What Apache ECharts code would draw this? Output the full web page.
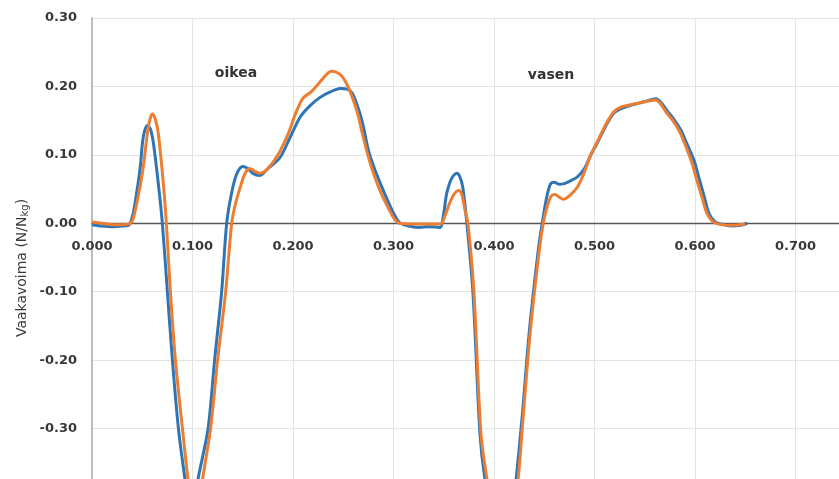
<!DOCTYPE html>
<html>
<head>
<meta charset="utf-8">
<script src="https://cdn.jsdelivr.net/npm/echarts@6/dist/echarts.min.js"></script>
<style>
  html, body { margin: 0; padding: 0; background: #fff; }
  #chart { width: 839px; height: 479px; }
</style>
</head>
<body>
<div id="chart"></div>
<script>
// Vertical force, two trials over time (s)
const xTicks = [0, 0.1, 0.2, 0.3, 0.4, 0.5, 0.6, 0.7, 0.8];
const yTicks = [-0.4, -0.3, -0.2, -0.1, 0, 0.1, 0.2, 0.3];

const timeBlue = [
  0.000, 0.010, 0.020, 0.030, 0.037, 0.041, 0.045, 0.048, 0.051, 0.055,
  0.058, 0.061, 0.066, 0.070, 0.075, 0.080, 0.086, 0.0925, 0.097, 0.101,
  0.1055, 0.1155, 0.122, 0.129, 0.134, 0.139, 0.144, 0.150, 0.155, 0.160,
  0.167, 0.175, 0.187, 0.197, 0.207, 0.217, 0.227, 0.237, 0.247, 0.254,
  0.259, 0.264, 0.269, 0.275, 0.281, 0.287, 0.294, 0.300, 0.306, 0.315,
  0.325, 0.335, 0.346, 0.350, 0.353, 0.358, 0.363, 0.366, 0.369, 0.373,
  0.379, 0.386, 0.391, 0.400, 0.410, 0.418, 0.422, 0.428, 0.435, 0.444,
  0.448, 0.452, 0.456, 0.460, 0.465, 0.470, 0.476, 0.483, 0.490, 0.496,
  0.503, 0.509, 0.515, 0.520, 0.527, 0.535, 0.545, 0.555, 0.561, 0.566,
  0.572, 0.579, 0.586, 0.592, 0.599, 0.604, 0.609, 0.614, 0.620, 0.628,
  0.636, 0.645, 0.652
];
const forceBlue = [
  -0.002, -0.004, -0.005, -0.004, -0.002, 0.015, 0.050, 0.082, 0.126, 0.143,
  0.138, 0.118, 0.058, 0.000, -0.100, -0.200, -0.300, -0.374, -0.420, -0.420,
  -0.374, -0.300, -0.200, -0.100, 0.000, 0.045, 0.072, 0.083, 0.080, 0.073,
  0.070, 0.080, 0.096, 0.125, 0.155, 0.172, 0.184, 0.192, 0.197, 0.196,
  0.190, 0.172, 0.148, 0.107, 0.080, 0.058, 0.034, 0.015, 0.001, -0.004,
  -0.006, -0.005, -0.006, 0.015, 0.044, 0.066, 0.073, 0.068, 0.052, 0.000,
  -0.100, -0.307, -0.374, -0.440, -0.450, -0.420, -0.374, -0.283, -0.160, -0.040,
  0.000, 0.035, 0.057, 0.060, 0.057, 0.058, 0.062, 0.068, 0.080, 0.099,
  0.118, 0.136, 0.152, 0.162, 0.168, 0.172, 0.176, 0.180, 0.182, 0.177,
  0.165, 0.152, 0.136, 0.116, 0.092, 0.066, 0.040, 0.014, 0.002, -0.002,
  -0.004, -0.003, 0.000
];

const timeOrange = [
  0.000, 0.010, 0.020, 0.030, 0.037, 0.041, 0.046, 0.051, 0.056, 0.060,
  0.063, 0.066, 0.071, 0.074, 0.078, 0.083, 0.090, 0.0955, 0.101, 0.105,
  0.110, 0.118, 0.125, 0.133, 0.139, 0.143, 0.147, 0.152, 0.157, 0.162,
  0.167, 0.175, 0.185, 0.195, 0.203, 0.210, 0.218, 0.226, 0.233, 0.238,
  0.243, 0.248, 0.253, 0.258, 0.264, 0.270, 0.276, 0.282, 0.288, 0.295,
  0.301, 0.306, 0.320, 0.335, 0.347, 0.351, 0.356, 0.361, 0.365, 0.368,
  0.371, 0.374, 0.380, 0.387, 0.393, 0.401, 0.411, 0.419, 0.424, 0.429,
  0.436, 0.445, 0.449, 0.453, 0.457, 0.461, 0.465, 0.469, 0.475, 0.483,
  0.490, 0.496, 0.503, 0.509, 0.515, 0.520, 0.527, 0.535, 0.545, 0.555,
  0.560, 0.565, 0.571, 0.578, 0.585, 0.591, 0.597, 0.602, 0.607, 0.612,
  0.618, 0.626, 0.634, 0.645, 0.650
];
const forceOrange = [
  0.002, 0.000, -0.002, -0.002, -0.001, 0.007, 0.040, 0.082, 0.140, 0.160,
  0.152, 0.131, 0.058, 0.000, -0.100, -0.200, -0.300, -0.374, -0.430, -0.430,
  -0.374, -0.300, -0.200, -0.100, 0.000, 0.030, 0.050, 0.072, 0.080, 0.076,
  0.073, 0.080, 0.100, 0.130, 0.162, 0.183, 0.192, 0.205, 0.217, 0.222,
  0.221, 0.216, 0.205, 0.188, 0.162, 0.125, 0.092, 0.065, 0.043, 0.022,
  0.006, 0.000, -0.001, -0.001, -0.001, 0.010, 0.030, 0.044, 0.048, 0.042,
  0.020, 0.000, -0.100, -0.307, -0.374, -0.440, -0.450, -0.420, -0.374, -0.283,
  -0.160, -0.040, 0.000, 0.025, 0.040, 0.042, 0.038, 0.035, 0.040, 0.053,
  0.075, 0.099, 0.120, 0.138, 0.154, 0.164, 0.170, 0.173, 0.176, 0.179,
  0.180, 0.176, 0.163, 0.150, 0.133, 0.112, 0.088, 0.062, 0.038, 0.014,
  0.002, -0.002, -0.003, -0.002, -0.001
];

const yTitle = 'Vaakavoima (N/N';
const yTitleSub = 'kg';
const notes = [
  { text: 'oikea', x: 236, y: 73 },
  { text: 'vasen', x: 551, y: 75 }
];

function zip(xs, ys) { return xs.map((x, i) => [x, ys[i]]); }

const labelStyle = {
  fontFamily: 'DejaVu Sans, sans-serif',
  fontWeight: 'bold',
  fontSize: 13,
  color: '#383838'
};

// plot area: 0.000–0.800 by -0.40–0.30, partly beyond the canvas edges
const gridTop = 18;
const gridHeight = 479;
const zeroOffset = -Math.round(gridHeight * (0 - yTicks[0]) / (yTicks[yTicks.length - 1] - yTicks[0]));

const chart = echarts.init(document.getElementById('chart'));
chart.setOption({
  animation: false,
  backgroundColor: '#ffffff',
  grid: {
    left: 92, top: gridTop, width: 804, height: gridHeight,
    containLabel: false, outerBoundsMode: 'none'
  },
  xAxis: {
    type: 'value',
    position: 'bottom',
    offset: zeroOffset,
    min: xTicks[0],
    max: xTicks[xTicks.length - 1],
    interval: 0.1,
    axisLine: { onZero: false, lineStyle: { color: '#555555', width: 1.3 } },
    axisTick: { show: false },
    axisLabel: Object.assign({ margin: 17, formatter: v => v.toFixed(3) }, labelStyle),
    splitLine: { show: true, lineStyle: { color: '#e3e3e3', width: 1 } }
  },
  yAxis: {
    type: 'value',
    min: yTicks[0],
    max: yTicks[yTicks.length - 1],
    interval: 0.1,
    axisLine: { show: true, onZero: false, lineStyle: { color: '#bdbdbd', width: 2 } },
    axisTick: { show: false },
    axisLabel: Object.assign({ margin: 15, formatter: v => v.toFixed(2) }, labelStyle),
    splitLine: { show: true, lineStyle: { color: '#e3e3e3', width: 1 } }
  },
  series: [
    {
      type: 'line',
      data: zip(timeBlue, forceBlue),
      smooth: 0.3,
      showSymbol: false,
      lineStyle: { color: '#2E75B6', width: 3 },
      z: 2
    },
    {
      type: 'line',
      data: zip(timeOrange, forceOrange),
      smooth: 0.3,
      showSymbol: false,
      lineStyle: { color: '#ED7D31', width: 3 },
      z: 3
    }
  ],
  graphic: [
    {
      type: 'text',
      x: 22, y: 268,
      rotation: Math.PI / 2,
      style: {
        text: '{m|' + yTitle + '}{s|' + yTitleSub + '}{m|)}',
        align: 'center',
        verticalAlign: 'middle',
        rich: {
          m: { fontFamily: 'DejaVu Sans, sans-serif', fontSize: 14, fill: '#3a3a3a' },
          s: { fontFamily: 'DejaVu Sans, sans-serif', fontSize: 10, fill: '#3a3a3a', padding: [7, 0, 0, 0] }
        }
      }
    }
  ].concat(notes.map(n => ({
    type: 'text',
    x: n.x, y: n.y,
    style: {
      text: n.text,
      align: 'center',
      verticalAlign: 'middle',
      fontFamily: 'DejaVu Sans, sans-serif',
      fontWeight: 'bold',
      fontSize: 14,
      fill: '#333333'
    }
  })))
});
</script>
</body>
</html>
